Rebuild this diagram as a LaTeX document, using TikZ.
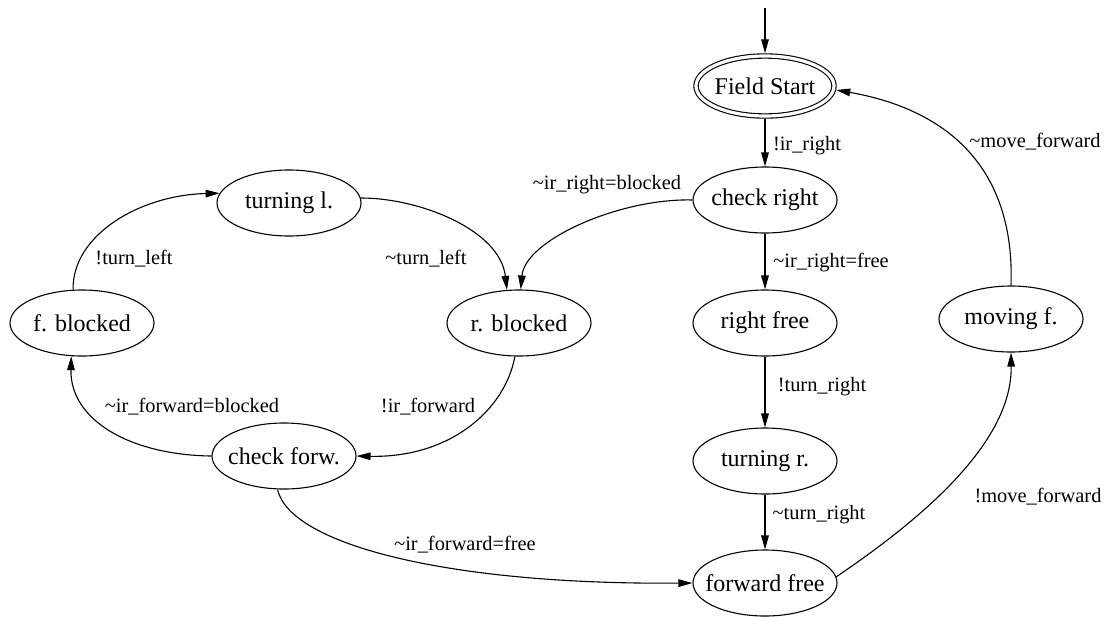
\documentclass[tikz,border=0pt]{standalone}
\usepackage{fontspec}
\setmainfont{Liberation Serif}
\usetikzlibrary{shapes.geometric,arrows.meta}
\newcommand\statename[1]{\makebox[0pt]{#1}}
\begin{document}
\begin{tikzpicture}[x=0.5pt,y=-0.5pt,
  state/.style={ellipse,draw,line width=0.55pt,minimum width=72pt,minimum height=33pt,
    inner sep=0pt,font=\fontsize{12}{14}\selectfont},
  startstate/.style={state,double,double distance=1.6pt,minimum width=69pt,minimum height=30pt},
  edge/.style={line width=0.55pt,-{Triangle[length=7pt,width=3.8pt]}},
  lbl/.style={font=\fontsize{10.2}{12}\selectfont,inner sep=0pt}]
\useasboundingbox (0,0) rectangle (1106,616);

% states
\node[startstate] (FS) at (765,86)  {\statename{Field Start}};
\node[state] (CR) at (765,200) {\statename{check right}};
\node[state] (RF) at (765,323) {\statename{right free}};
\node[state] (TR) at (765,461) {\statename{turning r.}};
\node[state] (FF) at (765,583) {\statename{forward free}};
\node[state] (MF) at (1011,319) {\statename{moving f.}};
\node[state] (TL) at (289,203) {\statename{turning l.}};
\node[state] (FB) at (82,323)  {\statename{f. blocked}};
\node[state] (RB) at (519,323) {\statename{r. blocked}};
\node[state] (CF) at (284,456) {\statename{check forw.}};

% initial transition
\coordinate (init) at (765,8);
\draw[edge,shorten >=1.1pt] (init) -- (FS.north);

% right-hand column
\draw[edge,shorten <=1.1pt] (FS.south) -- (CR.north);
\draw[edge] (CR.south) -- (RF.north);
\draw[edge] (RF.south) -- (TR.north);
\draw[edge] (TR.south) -- (FF.north);
\draw[edge] (FF.5) .. controls (950,500) and (1012,430) .. (MF.south);
\draw[edge,shorten >=1.1pt] (MF.north) .. controls (1015,170) and (950,110) .. (FS.-3);

% left-hand loop
\draw[edge] (CR.west) .. controls (620,198) and (525,240) .. (RB.87);
\draw[edge] (TL.4) .. controls (420,198) and (500,230) .. (RB.110);
\draw[edge] (RB.-97) .. controls (505,410) and (450,458) .. (CF.east);
\draw[edge] (CF.west) .. controls (130,455) and (70,420) .. (FB.-108);
\draw[edge] (FB.105) .. controls (72,235) and (140,195) .. (TL.172);
\draw[edge] (CF.-101) .. controls (290,545) and (450,585) .. (FF.west);

% transition labels
\node[lbl] (l1)  at (807,146)  {!ir\_right};
\node[lbl] (l2)  at (831,263)  {\textasciitilde ir\_right=free};
\node[lbl] (l3)  at (822,387)  {!turn\_right};
\node[lbl] (l4)  at (819,515)  {\textasciitilde turn\_right};
\node[lbl] (l5)  at (1038,497) {!move\_forward};
\node[lbl] (l6)  at (1035,142) {\textasciitilde move\_forward};
\node[lbl] (l7)  at (607,185)  {\textasciitilde ir\_right=blocked};
\node[lbl] (l8)  at (426,259)  {\textasciitilde turn\_left};
\node[lbl] (l9)  at (134,259)  {!turn\_left};
\node[lbl] (l10) at (428,407)  {!ir\_forward};
\node[lbl] (l11) at (192,407)  {\textasciitilde ir\_forward=blocked};
\node[lbl] (l12) at (465,545)  {\textasciitilde ir\_forward=free};
\end{tikzpicture}
\end{document}
